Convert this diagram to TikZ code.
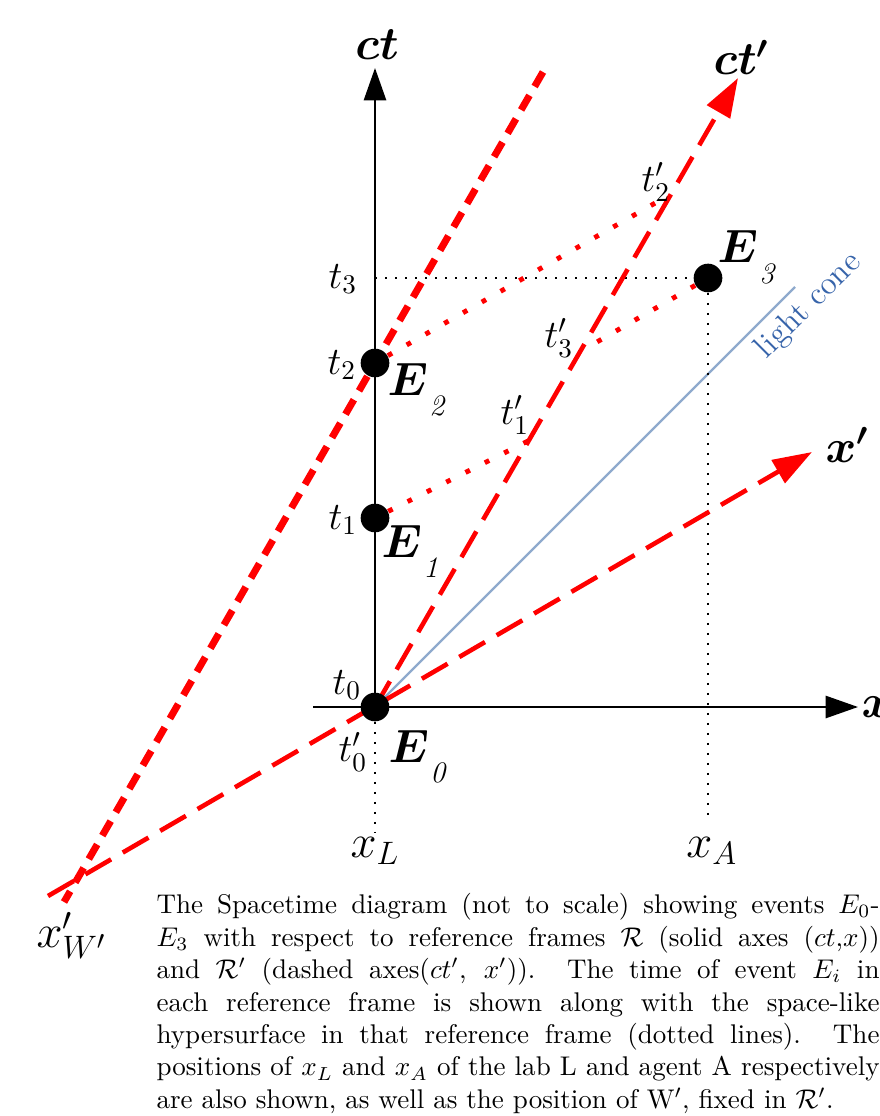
\documentclass[tikz,border=0pt]{standalone}
\usepackage{bm}
\usetikzlibrary{arrows.meta}
\definecolor{axred}{RGB}{255,0,0}
\definecolor{conecol}{RGB}{143,170,205}
\definecolor{conetxt}{RGB}{55,100,170}
\newcommand{\evlab}[1]{$\bm{E}$\kern0.5pt\raisebox{-7.5pt}{\fontsize{11}{13}\selectfont\itshape #1}}
\pgfdeclarelayer{bg}
\pgfsetlayers{bg,main}
\begin{document}
\begin{tikzpicture}[x=0.37pt,y=-0.37pt,
 kaxis/.style={black,line width=0.9pt,-{Triangle[length=12pt,width=8.2pt]}},
 raxis/.style={axred,line width=1.7pt,dash pattern=on 11pt off 5pt,-{Triangle[length=14.5pt,width=9.6pt]}},
 wline/.style={axred,line width=2.6pt,dash pattern=on 6.2pt off 3.8pt},
 rdot/.style={axred,line width=1.8pt,dash pattern=on 1.8pt off 6.2pt},
 kdot/.style={black,line width=0.9pt,dash pattern=on 0.9pt off 2.8pt},
 cone/.style={conecol,line width=0.8pt},
 event/.style={circle,fill=black,inner sep=0pt,minimum size=10.6pt},
 tlab/.style={inner sep=0pt,font=\Large},
 blab/.style={inner sep=0pt,font=\LARGE},
]
\useasboundingbox (0,0) rectangle (879,1116);
% free end points
\coordinate (ctTip) at (375,68);
\coordinate (xStart) at (313,707);
\coordinate (xTip) at (858,707);
\coordinate (ctpTip) at (738,78);
\coordinate (xpTail) at (48,896);
\coordinate (xpTip) at (812,452);
\coordinate (wTop) at (543,72);
\coordinate (wBot) at (64,902);
\coordinate (coneEnd) at (795,287);
\coordinate (t1p) at (530,440);
\coordinate (t2p) at (664,198);
\coordinate (t3p) at (583,350);
\coordinate (t3L) at (375,278);
\coordinate (xLEnd) at (375,832);
\coordinate (xAEnd) at (708,822);
% events
\node[event] (E0) at (375,707) {};
\node[event] (E1) at (375,518) {};
\node[event] (E2) at (375,363) {};
\node[event] (E3) at (708,278) {};
% lines
\begin{pgfonlayer}{bg}
\draw[cone] (E0.center) -- (coneEnd);
\draw[kdot] (t3L) -- (E3);
\draw[kdot] (E0) -- (xLEnd);
\draw[kdot] (E3) -- (xAEnd);
\draw[rdot] (E1) -- (t1p);
\draw[rdot] (E2) -- (t2p);
\draw[rdot] (E3) -- (t3p);
\draw[wline] (wTop) -- (wBot);
\draw[raxis] (xpTail) -- (xpTip);
\draw[raxis] (E0.center) -- (ctpTip);
\draw[kaxis] (xStart) -- (xTip);
\draw[kaxis] (E0.center) -- (ctTip);
\end{pgfonlayer}
% axis labels
\node[blab,anchor=base] (lct) at (377,60) {$\bm{ct}$};
\node[blab,anchor=base west] (lctp) at (713,75) {$\bm{ct'}$};
\node[blab,anchor=base west] (lxp) at (825,462) {$\bm{x'}$};
\node[blab,anchor=west] (lx) at (861,707) {$\bm{x}$};
% time labels
\node[tlab] (lt3) at (343,279) {$t_3$};
\node[tlab] (lt2) at (342,365) {$t_2$};
\node[tlab] (lt1) at (343,520) {$t_1$};
\node[tlab] (lt0) at (347,685) {$t_0$};
\node[tlab] (lt0p) at (353,752) {$t'_0$};
\node[tlab] (lt1p) at (515,415) {$t'_1$};
\node[tlab] (lt2p) at (656,182) {$t'_2$};
\node[tlab] (lt3p) at (559,338) {$t'_3$};
% event labels
\node[blab,anchor=base west] (lE0) at (388,762) {\evlab{0}};
\node[blab,anchor=base west] (lE1) at (381,557) {\evlab{1}};
\node[blab,anchor=base west] (lE2) at (387,395) {\evlab{2}};
\node[blab,anchor=base west] (lE3) at (717,263) {\evlab{3}};
% position labels
\node[blab] (lxL) at (375,851) {$x_L$};
\node[blab] (lxA) at (712,851) {$x_A$};
\node[blab,anchor=base west] (lxW) at (36,947) {$x'_{W'}$};
\node[inner sep=0pt,font=\large,text=conetxt,rotate=45] (lcone) at (809,306) {light cone};
% caption
\node[anchor=north west,inner sep=0pt,text width=267.5pt,align=justify] (cap) at (156,893)
{The Spacetime diagram (not to scale) showing events $E_0$-\linebreak
$E_3$ with respect to reference frames $\mathcal{R}$ (solid axes $(ct$,$x)$)\linebreak
and $\mathcal{R}'$ (dashed axes($ct'$, $x'$)). The time of event $E_i$ in\linebreak
each reference frame is shown along with the space-like\linebreak
hypersurface in that reference frame (dotted lines). The\linebreak
positions of $x_L$ and $x_A$ of the lab L and agent A respectively\linebreak
are also shown, as well as the position of W$'$, fixed in $\mathcal{R}'$.};
\end{tikzpicture}
\end{document}
